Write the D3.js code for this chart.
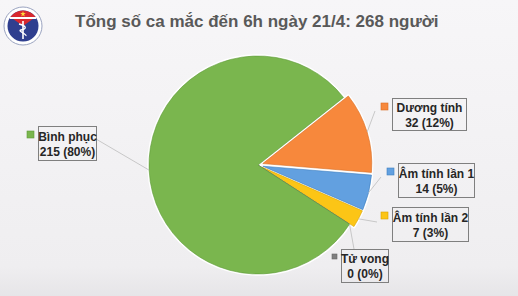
<!DOCTYPE html>
<html>
<head>
<meta charset="utf-8">
<script src="https://cdn.jsdelivr.net/npm/d3@7"></script>
<style>
  html, body { margin: 0; padding: 0; }
  body { width: 518px; height: 296px; overflow: hidden; }
  text { font-family: "Liberation Sans", Arial, sans-serif; }
</style>
</head>
<body>
<div id="chart"></div>
<script>
// chart data
var categories = ["Dương tính", "Âm tính lần 1", "Âm tính lần 2", "Tử vong", "Bình phục"];
var values = [32, 14, 7, 0, 215];
var percentLabels = ["12%", "5%", "3%", "0%", "80%"];
var colors = ["#f7883c", "#62a0e0", "#fcc516", "#7f7f7f", "#7ab64e"];
var strokes = ["#d96d22", "#3f7fc0", "#d9a200", "#666", "#5e9a38"];
var titleText = "Tổng số ca mắc đến 6h ngày 21/4: 268 người";

var w = 518, h = 296;
var cx = 258, cy = 165, r = 109;
var explode = [5, 5, 5, 0, 0];

// label box positions (left, top, width, height)
var boxes = [
    { x: 392, y: 98, w: 74, h: 32 },
    { x: 398, y: 163, w: 76, h: 34 },
    { x: 392, y: 207, w: 76, h: 34 },
    { x: 341, y: 249, w: 47, h: 33 },
    { x: 38, y: 126, w: 58, h: 34 }
];
// where each leader line meets the label
var leadEnds = [[375, 111], [381, 177], [377, 222], [354, 249], [96, 139]];

var svg = d3.select("#chart")
            .append("svg")
            .attr("width", w)
            .attr("height", h);

var defs = svg.append("defs");
var bg = defs.append("linearGradient")
             .attr("id", "bg")
             .attr("x1", 0).attr("y1", 0).attr("x2", 0).attr("y2", 1);
bg.append("stop").attr("offset", "0%").attr("stop-color", "#f7f6f8");
bg.append("stop").attr("offset", "90%").attr("stop-color", "#efeef0");
bg.append("stop").attr("offset", "100%").attr("stop-color", "#e6e5e8");

svg.append("rect")
   .attr("width", w).attr("height", h)
   .attr("fill", "url(#bg)");

// logo
var logo = svg.append("g").attr("transform", "translate(23,26)");
logo.append("circle").attr("r", 19).attr("fill", "#fff").attr("stroke", "#9aa3c0").attr("stroke-width", 1);
logo.append("circle").attr("r", 15.5).attr("fill", "#2f3f8f");
logo.append("path")
    .attr("d", d3.arc()({ innerRadius: 0, outerRadius: 15.5, startAngle: -0.95, endAngle: 0.95 }))
    .attr("fill", "#d8282f");
logo.append("rect").attr("x", -13).attr("y", -9).attr("width", 26).attr("height", 2).attr("fill", "#fff");
logo.append("path")
    .attr("d", d3.symbol().type(d3.symbolStar).size(10)())
    .attr("transform", "translate(0,-12)")
    .attr("fill", "#ffd83a");
logo.append("line").attr("x1", 0).attr("y1", -5).attr("x2", 0).attr("y2", 13)
    .attr("stroke", "#fff").attr("stroke-width", 1.6);
logo.append("path").attr("d", "M-4,-2 C4,0 4,3 -2,4 C-6,5 4,8 3,10")
    .attr("fill", "none").attr("stroke", "#fff").attr("stroke-width", 1.3);

// title
svg.append("text")
   .attr("x", 75)
   .attr("y", 27)
   .attr("font-size", 17)
   .attr("font-weight", "bold")
   .attr("fill", "#595959")
   .text(titleText);

// pie
var start = 51.7 * Math.PI / 180;
var pie = d3.pie()
            .sort(null)
            .value(function(d) { return d; })
            .startAngle(start)
            .endAngle(start + 2 * Math.PI);
var arcs = pie(values);
var arc = d3.arc().innerRadius(0).outerRadius(r);

function offset(d, i) {
    var a = (d.startAngle + d.endAngle) / 2;
    return [Math.sin(a) * explode[i], -Math.cos(a) * explode[i]];
}

var slices = svg.append("g")
                .attr("transform", "translate(" + cx + "," + cy + ")");

// white separators first, then the fills with thin darker edges
slices.selectAll("path.sep")
      .data(arcs)
      .enter()
      .append("path")
      .attr("class", "sep")
      .attr("d", arc)
      .attr("transform", function(d, i) { var o = offset(d, i); return "translate(" + o[0] + "," + o[1] + ")"; })
      .attr("fill", "none")
      .attr("stroke", "#fff")
      .attr("stroke-width", 3.5)
      .attr("stroke-linejoin", "round");

slices.selectAll("path.slice")
      .data(arcs)
      .enter()
      .append("path")
      .attr("class", "slice")
      .attr("d", arc)
      .attr("transform", function(d, i) { var o = offset(d, i); return "translate(" + o[0] + "," + o[1] + ")"; })
      .attr("fill", function(d, i) { return colors[i]; })
      .attr("stroke", function(d, i) { return strokes[i]; })
      .attr("stroke-width", 0.6);

// leader lines
svg.selectAll("line.lead")
   .data(arcs)
   .enter()
   .append("line")
   .attr("class", "lead")
   .attr("x1", function(d, i) { var a = (d.startAngle + d.endAngle) / 2; return cx + offset(d, i)[0] + Math.sin(a) * r; })
   .attr("y1", function(d, i) { var a = (d.startAngle + d.endAngle) / 2; return cy + offset(d, i)[1] - Math.cos(a) * r; })
   .attr("x2", function(d, i) { return leadEnds[i][0]; })
   .attr("y2", function(d, i) { return leadEnds[i][1]; })
   .attr("stroke", "#bdbdbd")
   .attr("stroke-width", 0.8);

// labels
var labels = svg.selectAll("g.label")
                .data(categories)
                .enter()
                .append("g")
                .attr("class", "label");

labels.append("rect")
      .attr("x", function(d, i) { return boxes[i].x + 0.5; })
      .attr("y", function(d, i) { return boxes[i].y + 0.5; })
      .attr("width", function(d, i) { return boxes[i].w; })
      .attr("height", function(d, i) { return boxes[i].h; })
      .attr("fill", "none")
      .attr("stroke", "#7f7f7f")
      .attr("stroke-width", 1);

labels.append("rect")
      .attr("x", function(d, i) { return boxes[i].x - (i === 3 ? 9 : 11); })
      .attr("y", function(d, i) { return boxes[i].y + 5; })
      .attr("width", function(d, i) { return i === 3 ? 5 : 7; })
      .attr("height", function(d, i) { return i === 3 ? 5 : 7; })
      .attr("fill", function(d, i) { return colors[i]; })
      .attr("stroke", function(d, i) { return strokes[i]; })
      .attr("stroke-width", 0.6);

labels.append("text")
      .attr("x", function(d, i) { return boxes[i].x + boxes[i].w / 2 + 0.5; })
      .attr("y", function(d, i) { return boxes[i].y + boxes[i].h / 2 - 2.5; })
      .attr("text-anchor", "middle")
      .attr("font-size", 12)
      .attr("font-weight", "bold")
      .attr("fill", "#262626")
      .text(function(d) { return d; });

labels.append("text")
      .attr("x", function(d, i) { return boxes[i].x + boxes[i].w / 2 + 0.5; })
      .attr("y", function(d, i) { return boxes[i].y + boxes[i].h / 2 + 12.5; })
      .attr("text-anchor", "middle")
      .attr("font-size", 12)
      .attr("font-weight", "bold")
      .attr("fill", "#262626")
      .text(function(d, i) { return values[i] + " (" + percentLabels[i] + ")"; });
</script>
</body>
</html>
